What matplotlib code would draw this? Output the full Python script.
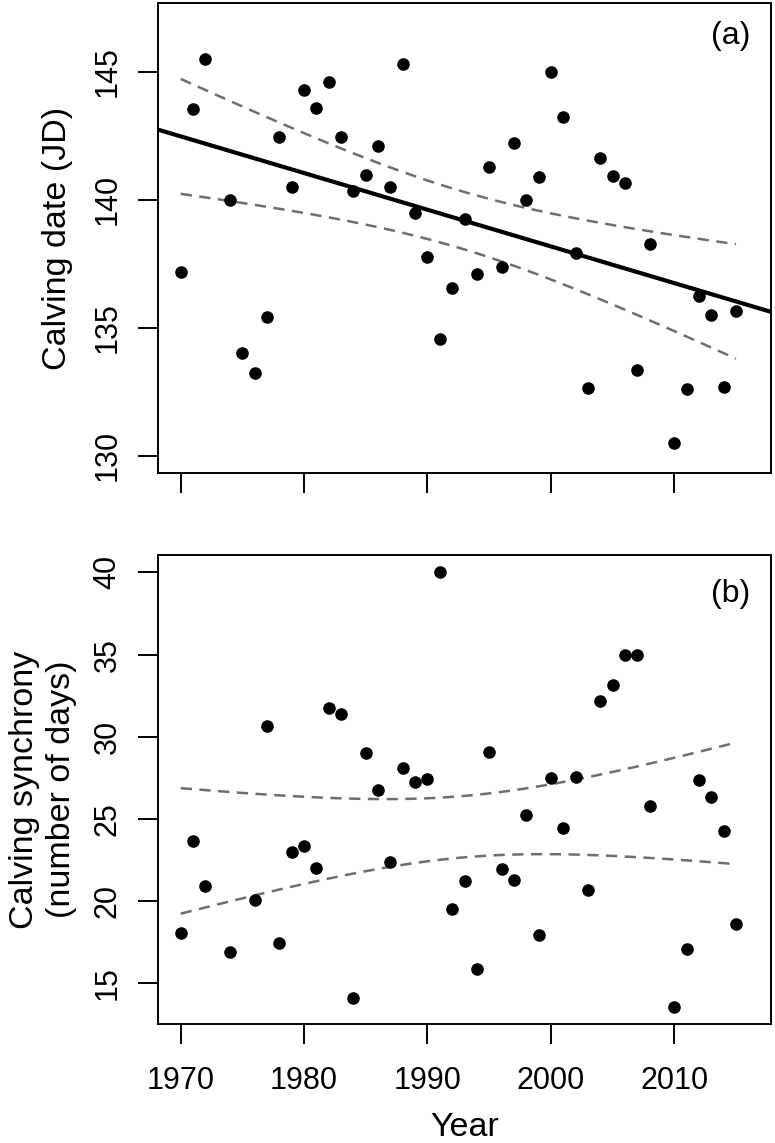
import numpy as np
import matplotlib
matplotlib.use("Agg")
import matplotlib.pyplot as plt

plt.rcParams['font.family'] = ['Liberation Sans', 'DejaVu Sans']

# ---- data (a): calving date ----
years_a = [1970, 1971, 1972, 1974, 1975, 1976, 1977, 1978, 1979, 1980, 1981, 1982,
           1983, 1984, 1985, 1986, 1987, 1988, 1989, 1990, 1991, 1992, 1993, 1994,
           1995, 1996, 1997, 1998, 1999, 2000, 2001, 2002, 2003, 2004, 2005, 2006,
           2007, 2008, 2010, 2011, 2012, 2013, 2014, 2015]
calving_date = [137.17, 143.52, 145.49, 140.0, 133.99, 133.23, 135.42, 142.44, 140.51,
                144.30, 143.56, 144.58, 142.43, 140.35, 140.96, 142.10, 140.48, 145.30,
                139.47, 137.76, 134.55, 136.55, 139.24, 137.11, 141.27, 137.37, 142.22,
                139.99, 140.89, 145.0, 143.21, 137.91, 132.64, 141.62, 140.94, 140.64,
                133.34, 138.28, 130.48, 132.60, 136.24, 135.51, 132.66, 135.65]
# fitted trend (value at 1970, slope per year)
trend_a_1970 = 142.47
trend_a_slope = -0.1433

# ---- data (b): calving synchrony ----
years_b = [1970, 1971, 1972, 1974, 1976, 1977, 1978, 1979, 1980, 1981, 1982, 1983,
           1984, 1985, 1986, 1987, 1988, 1989, 1990, 1991, 1992, 1993, 1994, 1995,
           1996, 1997, 1998, 1999, 2000, 2001, 2002, 2003, 2004, 2005, 2006, 2007,
           2008, 2010, 2011, 2012, 2013, 2014, 2015]
synchrony = [18.04, 23.67, 20.94, 16.89, 20.07, 30.65, 17.43, 23.0, 23.33, 22.01,
             31.73, 31.4, 14.12, 29.01, 26.78, 22.4, 28.08, 27.26, 27.43, 40.0,
             19.54, 21.24, 15.87, 29.05, 21.95, 21.28, 25.22, 17.94, 27.49, 24.45,
             27.55, 20.69, 32.15, 33.16, 34.99, 35.0, 25.77, 13.58, 17.07, 27.39,
             26.31, 24.28, 18.61]

xticks = [1970, 1980, 1990, 2000, 2010]
yticks_a = [130, 135, 140, 145]
yticks_b = [15, 20, 25, 30, 35, 40]
T_CRIT = 2.02  # 95% t quantile, ~42 df


def ols_band(x, y, grid, a=None, b=None):
    x = np.asarray(x, float)
    y = np.asarray(y, float)
    n = len(x)
    b0, a0 = np.polyfit(x, y, 1)
    resid = y - (a0 + b0 * x)
    s = np.sqrt(np.sum(resid ** 2) / (n - 2))
    sxx = np.sum((x - x.mean()) ** 2)
    if a is None:
        a, b = a0, b0
    fit = a + b * grid
    se = s * np.sqrt(1.0 / n + (grid - x.mean()) ** 2 / sxx)
    return fit - T_CRIT * se, fit + T_CRIT * se


W, H = 775, 1143
fig = plt.figure(figsize=(W / 100, H / 100), dpi=100)
L, R = 158 / W, 771 / W
ax1 = fig.add_axes([L, 1 - 473 / H, R - L, 470 / H])
ax2 = fig.add_axes([L, 1 - 1024 / H, R - L, 469 / H])

FS = 22
FS_LAB = 24.5
dash_col = '#6e6e6e'

for ax in (ax1, ax2):
    ax.set_xlim(1968.16, 2017.84)
    ax.set_xticks(xticks)
    for sp in ax.spines.values():
        sp.set_linewidth(1.4)
    ax.tick_params(axis='both', direction='out', length=14.5, width=1.4,
                   labelsize=FS)
    ax.tick_params(axis='x', pad=15.5)
    ax.tick_params(axis='y', labelrotation=90, pad=11)
    for lab in ax.get_yticklabels():
        lab.set_va('center')

# panel (a)
ax1.set_ylim(129.32, 147.68)
ax1.set_yticks(yticks_a)
ax1.set_xticklabels([])
grid_a = np.linspace(min(years_a), max(years_a), 200)
int_a = trend_a_1970 - trend_a_slope * 1970
lo_a, hi_a = ols_band(years_a, calving_date, grid_a, int_a, trend_a_slope)
ax1.axline((1970, trend_a_1970), slope=trend_a_slope, color='black', lw=3.0, zorder=2)
ax1.plot(grid_a, lo_a, color=dash_col, lw=1.8, dashes=(4.5, 3), zorder=2)
ax1.plot(grid_a, hi_a, color=dash_col, lw=1.8, dashes=(4.5, 3), zorder=2)
ax1.scatter(years_a, calving_date, s=82, color='black', zorder=3, linewidths=0)
ax1.text(0.966, 0.93, '(a)', transform=ax1.transAxes, ha='right', va='center',
         fontsize=23)

# panel (b)
ax2.set_ylim(12.52, 41.06)
ax2.set_yticks(yticks_b)
ax2.set_xticklabels([str(v) for v in xticks])
grid_b = np.linspace(min(years_b), max(years_b), 200)
lo_b, hi_b = ols_band(years_b, synchrony, grid_b)
ax2.plot(grid_b, lo_b, color=dash_col, lw=1.8, dashes=(4.5, 3), zorder=2)
ax2.plot(grid_b, hi_b, color=dash_col, lw=1.8, dashes=(4.5, 3), zorder=2)
ax2.scatter(years_b, synchrony, s=82, color='black', zorder=3, linewidths=0)
ax2.text(0.966, 0.917, '(b)', transform=ax2.transAxes, ha='right', va='center',
         fontsize=23)

# axis titles
fig.text(57.5 / W, 1 - 238 / H, 'Calving date (JD)', rotation=90,
         ha='center', va='center', fontsize=FS_LAB)
fig.text(43 / W, 1 - 789.5 / H, 'Calving synchrony\n(number of days)', rotation=90,
         ha='center', va='center', fontsize=FS_LAB, linespacing=1.25,
         multialignment='center')
fig.text(464.5 / W, 1 - 1136 / H, 'Year', ha='center', va='baseline', fontsize=FS_LAB)

fig.savefig('out.png', dpi=100)
